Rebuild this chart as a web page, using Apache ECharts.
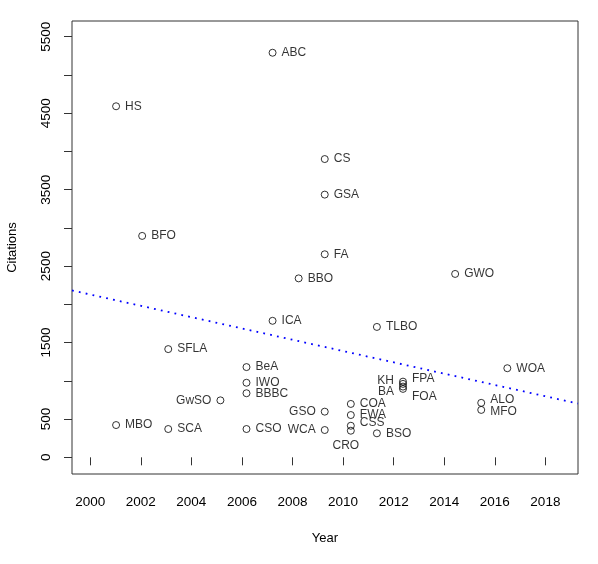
<!DOCTYPE html>
<html>
<head>
<meta charset="utf-8">
<script src="https://cdn.jsdelivr.net/npm/echarts@6/dist/echarts.min.js"></script>
<style>
html,body{margin:0;padding:0;background:#fff;}
#chart{width:598px;height:564px;}
</style>
</head>
<body>
<div id="chart"></div>
<script>
// ---- data ----
const names = ['ABC','HS','CS','GSA','BFO','FA','BBO','ICA','TLBO','GWO','SFLA','BeA','IWO','BBBC','GwSO','MBO','SCA','CSO','GSO','WCA','COA','FWA','CSS','CRO','BSO','FPA','KH','BA','FOA','WOA','ALO','MFO'];
const years = [2007,2001,2009,2009,2002,2009,2008,2007,2011,2014,2003,2006,2006,2006,2005,2001,2003,2006,2009,2009,2010,2010,2010,2010,2011,2012,2012,2012,2012,2016,2015,2015];
const citations = [5290,4590,3900,3435,2895,2655,2340,1785,1705,2398,1415,1180,975,838,745,422,370,370,597,357,698,553,413,348,314,990,960,925,895,1165,712,620];
const xTicks = [2000,2002,2004,2006,2008,2010,2012,2014,2016,2018];
const yTicks = [0,500,1000,1500,2000,2500,3000,3500,4000,4500,5000,5500];
const yLabels = [0,500,1500,2500,3500,4500,5500];
const trendYears = [1999.31, 2018.71];
const trendValues = [2182, 703];

// ---- label placement (style only) ----
const labelSide = { GwSO:'left', GSO:'left', WCA:'left', KH:'left', BA:'left', CRO:'bottom' };
const labelShift = {
  KH:[0,-3], BA:[0,5], FPA:[0,-3], FOA:[0,8], CRO:[-5,0],
  CSS:[0,-3], ALO:[0,-3], MFO:[0,2]
};

const pts = names.map((n,i)=>{
  const item = {name:n, value:[years[i], citations[i]]};
  if (labelSide[n]) item.label = {position: labelSide[n]};
  return item;
});

const chart = echarts.init(document.getElementById('chart'), null, {renderer:'canvas'});
const font = 'Liberation Sans, Arial, Helvetica, sans-serif';
const plain = v => String(Math.round(v));
chart.setOption({
  backgroundColor:'#fff',
  animation:false,
  grid:{left:72, right:20, top:21, bottom:90, containLabel:false, outerBoundsMode:'none',
        show:true, borderColor:'#333', borderWidth:1, backgroundColor:'transparent'},
  xAxis:[{
    // visible year axis (tick marks and labels)
    type:'value', min:1999.28, max:2019.29,
    name:'Year', nameLocation:'middle', nameGap:58,
    nameTextStyle:{fontFamily:font, fontSize:13, color:'#000'},
    axisLine:{show:false},
    splitLine:{show:false},
    axisTick:{show:true, inside:false, length:8, customValues:xTicks, lineStyle:{color:'#333', width:1}},
    axisLabel:{customValues:xTicks, formatter:plain, margin:21, fontFamily:font, fontSize:13.5, color:'#000'}
  },{
    // data axis for the points (as placed in the original figure)
    type:'value', min:1999.31, max:2018.71, position:'bottom', show:false
  }],
  yAxis:{
    type:'value', min:-218, max:5705,
    name:'Citations', nameLocation:'middle', nameGap:53, nameRotate:90,
    nameTextStyle:{fontFamily:font, fontSize:13, color:'#000'},
    axisLine:{show:false},
    splitLine:{show:false},
    axisTick:{show:true, inside:false, length:8, customValues:yTicks, lineStyle:{color:'#333', width:1}},
    axisLabel:{customValues:yLabels, formatter:plain, rotate:90, margin:19, fontFamily:font, fontSize:13.5, color:'#000'}
  },
  series:[
    {
      type:'line', xAxisIndex:1,
      data:trendYears.map((x,i)=>[x, trendValues[i]]),
      symbol:'none', silent:true,
      lineStyle:{color:'#0000ff', width:1.8, type:[1.8,5.2]},
      z:1
    },
    {
      type:'scatter', xAxisIndex:1,
      data:pts,
      symbol:'circle', symbolSize:7,
      itemStyle:{color:'rgba(0,0,0,0)', borderColor:'#000', borderWidth:1},
      label:{show:true, position:'right', distance:5, formatter:'{b}', fontFamily:font, fontSize:12, color:'#000'},
      labelLayout:function(params){
        const s = labelShift[names[params.dataIndex]] || [0,0];
        return {hideOverlap:false, moveOverlap:null, dx:s[0], dy:s[1]};
      },
      z:2
    }
  ]
});
</script>
</body>
</html>
